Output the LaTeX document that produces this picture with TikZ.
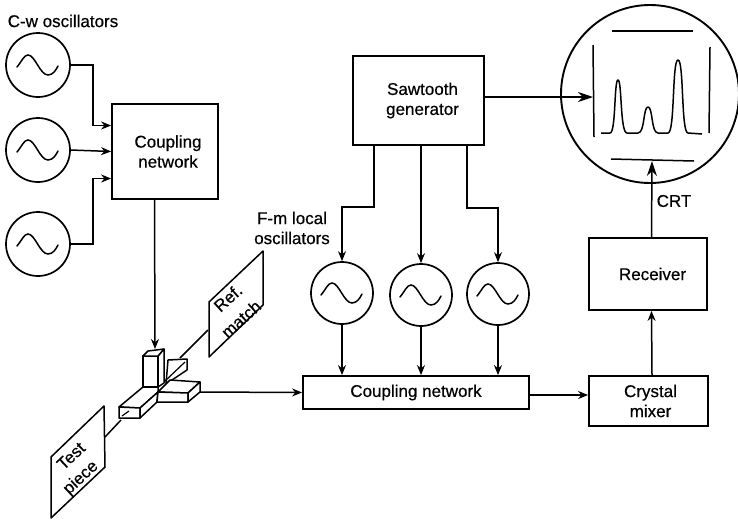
\documentclass[tikz,border=0pt]{standalone}
\usepackage{fontspec}
\setmainfont{Liberation Sans}[FakeBold=0.5]
\usetikzlibrary{arrows.meta}
\tikzset{
  x=1pt,y=-1pt,
  every node/.style={font=\fontsize{17}{20}\selectfont},
  ln/.style={line width=1.5pt,line join=round},
  wire/.style={line width=1.5pt,-{Stealth[length=10pt,width=8pt]}},
  bigwire/.style={line width=1.5pt,-{Stealth[length=15pt,width=10pt]}},
  plain/.style={line width=1.5pt},
  box/.style={draw,line width=1.8pt,inner sep=0pt,align=center,fill=white},
  osc/.style={draw,circle,line width=1.7pt,inner sep=0pt,minimum size=62pt,fill=white},
  lbl/.style={inner sep=0pt,align=center},
  sine/.pic={\draw[line width=1.5pt,line cap=round] (-21,2) .. controls (-16,-4) and (-14,-10) .. (-10,-10) .. controls (-3,-10) and (2,10) .. (10,10) .. controls (15,10) and (18,5) .. (20,1);}
}
\begin{document}
\begin{tikzpicture}
\useasboundingbox (0,0) rectangle (738,520);
% C-w oscillators
\node[lbl] (cwlabel) at (63,21) {C-w oscillators};
\node[osc,minimum size=64pt] (cw1) at (38,65) {};
\node[osc,minimum size=64pt] (cw2) at (38,150) {};
\node[osc,minimum size=64pt] (cw3) at (38,244) {};
\foreach \n in {cw1,cw2,cw3} \pic at (\n) {sine};
\node[box,minimum width=106pt,minimum height=95pt] (cn1) at (165,151.5) {\hspace*{6pt}Coupling\\\hspace*{6pt}network};
\coordinate (j1) at (93,65);
\coordinate (j3) at (93,244);
\draw[wire] (cw1.east) -- (j1) |- ([yshift=26pt]cn1.west);
\draw[wire] (cw2.east) -- (cn1.west);
\draw[wire] (cw3.east) -- (j3) |- ([yshift=-27pt]cn1.west);
% Hybrid tee and loads
\coordinate (teetop) at (155,349);
\coordinate (teeout) at (200,392);
\coordinate (refend) at (208,330);
\coordinate (refarm) at (180,358);
\coordinate (testend) at (105,437);
\coordinate (testarm) at (121,420);
\draw[wire] ([xshift=-10.5pt]cn1.south) -- (teetop);
\draw[plain] (refarm) -- (refend);
\draw[plain] (testarm) -- (testend);
\draw[ln,fill=white] (168,360) -- (187,359) -- (187,370) -- (166,384) -- cycle;
\draw[line width=1.2pt] (185,362) -- (165,381);
\draw[ln,fill=white] (119,407) -- (143,387) -- (158,387) -- (158,392) -- (140,408) -- cycle;
\draw[ln,fill=white] (119,407) -- (140,408) -- (140,418) -- (119,418) -- cycle;
\draw[ln,fill=white] (140,408) -- (158,392) -- (157,402) -- (140,418) -- cycle;
\draw[line width=1.2pt] (122,416) -- (129,411);
\draw[ln,fill=white] (158,392) -- (170,380) -- (200,382) -- (188,393) -- cycle;
\draw[ln,fill=white] (158,392) -- (188,393) -- (188,402) -- (157,402) -- cycle;
\draw[ln,fill=white] (188,393) -- (200,382) -- (200,392) -- (188,402) -- cycle;
\draw[ln,fill=white] (158,356) -- (164,349) -- (164,383) -- (158,387) -- cycle;
\draw[ln,fill=white] (143,356) -- (158,356) -- (158,387) -- (143,387) -- cycle;
\draw[ln,fill=white] (143,356) -- (148,351) -- (164,349) -- (158,356) -- cycle;
\draw[ln] (209,302) -- (263,251) -- (263,305) -- (209,357) -- cycle;
\draw[ln] (51,457) -- (104,406) -- (105,467) -- (51,518) -- cycle;
\node[lbl,rotate=42] (ref1) at (228,298) {Ref.};
\node[lbl,rotate=42] (ref2) at (241,319) {match};
\node[lbl,rotate=43] (test1) at (71,456) {Test};
\node[lbl,rotate=43] (test2) at (81,478) {piece};
% Sawtooth and F-m oscillators
\node[box,minimum width=131pt,minimum height=89pt] (saw) at (418.5,100.5) {\hspace*{8pt}Sawtooth\\\hspace*{8pt}generator};
\node[lbl] (fmlabel) at (292,228) {F-m local\\oscillators};
\node[osc] (lo1) at (342,293) {};
\node[osc] (lo2) at (421,295) {};
\node[osc] (lo3) at (498,294) {};
\foreach \n in {lo1,lo2,lo3} \pic at (\n) {sine};
\coordinate (b1) at (374,207);
\coordinate (b3) at (467,208);
\draw[wire] (saw.south -| b1) -- (b1) -| (lo1.north);
\draw[wire] (saw.south -| lo2) -- (lo2.north);
\draw[wire] (saw.south -| b3) -- (b3) -| (lo3.north);
% Lower coupling network
\node[box,minimum width=226pt,minimum height=33pt] (cn2) at (416,392.5) {Coupling network};
\foreach \n in {lo1,lo2,lo3} \draw[wire] (\n.south) -- (cn2.north -| \n);
\draw[wire] (teeout) -- (cn2.west);
% Mixer, receiver
\node[box,minimum width=119pt,minimum height=50pt] (mix) at (648.5,401) {\hspace*{4pt}Crystal\\\hspace*{4pt}mixer};
\node[box,minimum width=118pt,minimum height=72pt] (rec) at (648,274) {\hspace*{9pt}Receiver};
\draw[wire] ([yshift=-2.5pt]cn2.east) -- ([yshift=6pt]mix.west);
\draw[wire] ([xshift=3.5pt]mix.north) -- ([xshift=3.5pt]rec.south);
% CRT
\node[draw,circle,line width=1.9pt,inner sep=0pt,minimum size=178pt] (crt) at (650,94) {};
\coordinate (crtin) at (593,97);
\coordinate (crtbot) at (652,161);
\draw[bigwire] (saw.east |- crtin) -- (crtin);
\draw[bigwire] ([xshift=3.5pt]rec.north) -- (crtbot);
\node[lbl] (crtlabel) at (674,201) {CRT};
\draw[plain] (612,31) -- (693,31);
\draw[plain] (593,45) -- (594,137);
\draw[plain] (710,47) -- (709,133);
\draw[plain] (611,159) -- (694,161);
\draw[plain,line join=round] (601,133) -- (610,133) .. controls (616,133) and (614,80) .. (618,80) .. controls (622,80) and (620,133) .. (627,133) -- (638,133) .. controls (645,133) and (643,107) .. (648,107) .. controls (653,107) and (651,133) .. (658,133) -- (668,133) .. controls (675,133) and (672,60) .. (678,60) .. controls (684,60) and (681,133) .. (688,133) -- (702,134);
\end{tikzpicture}
\end{document}
